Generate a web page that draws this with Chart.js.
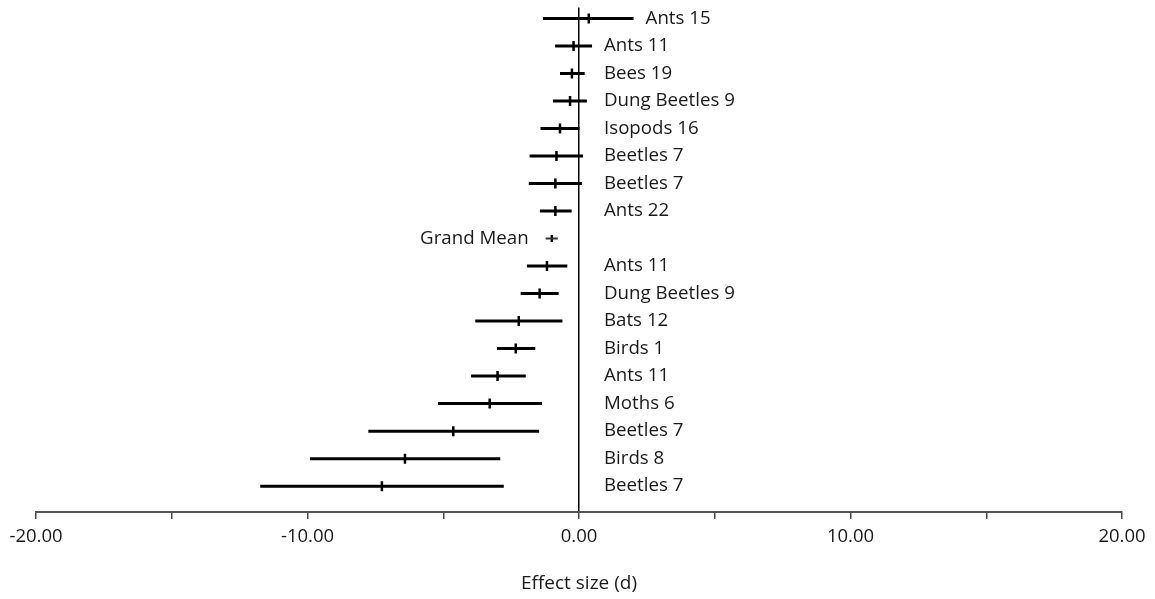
<!DOCTYPE html>
<html>
<head>
<meta charset="utf-8">
<script src="https://cdn.jsdelivr.net/npm/chart.js@4.4.1/dist/chart.umd.min.js"></script>
<style>
  body { margin: 0; background: #fff; }
  #wrap { width: 1155px; height: 599px; position: relative; }
</style>
</head>
<body>
<div id="wrap"><canvas id="forest"></canvas></div>
<script>
// rows, top to bottom
var labels = ['Ants 15', 'Ants 11', 'Bees 19', 'Dung Beetles 9', 'Isopods 16', 'Beetles 7', 'Beetles 7', 'Ants 22',
              'Grand Mean', 'Ants 11', 'Dung Beetles 9', 'Bats 12', 'Birds 1', 'Ants 11', 'Moths 6', 'Beetles 7', 'Birds 8', 'Beetles 7'];
var means = [0.36, -0.20, -0.26, -0.33, -0.70, -0.83, -0.87, -0.87, -1.00, -1.18, -1.45, -2.22, -2.33, -3.00, -3.29, -4.63, -6.41, -7.26];
var lower = [-1.33, -0.88, -0.70, -0.96, -1.42, -1.82, -1.85, -1.44, -1.23, -1.92, -2.15, -3.82, -3.02, -3.98, -5.19, -7.76, -9.91, -11.74];
var upper = [2.01, 0.48, 0.21, 0.29, 0.02, 0.15, 0.11, -0.27, -0.78, -0.43, -0.75, -0.61, -1.61, -1.96, -1.36, -1.47, -2.90, -2.77];
var grandRow = 8;

Chart.defaults.font.family = "'Open Sans', sans-serif";
Chart.defaults.font.size = 18;
Chart.defaults.color = '#1a1a1a';

var datasets = [];
labels.forEach(function(l, i) {
    datasets.push({
        type: 'line',
        data: [{x: lower[i], y: i + 1}, {x: upper[i], y: i + 1}],
        borderColor: i === grandRow ? '#333' : '#000',
        borderWidth: i === grandRow ? 2 : 3,
        pointRadius: 0,
        showLine: true
    });
});
datasets.push({
    type: 'scatter',
    data: means.map(function(m, i) { return {x: m, y: i + 1}; }),
    pointStyle: 'line',
    rotation: 90,
    pointRadius: means.map(function(m, i) { return i === grandRow ? 3.5 : 5; }),
    borderWidth: 2.5,
    borderColor: '#000'
});

// row names to the right of the bars, grand mean to the left
var rowLabels = {
    id: 'rowLabels',
    afterDatasetsDraw: function(chart) {
        var ctx = chart.ctx, xs = chart.scales.x, ys = chart.scales.y;
        ctx.save();
        ctx.font = "18.7px 'Open Sans', sans-serif";
        ctx.fillStyle = '#1a1a1a';
        ctx.textBaseline = 'middle';
        labels.forEach(function(l, i) {
            var y = ys.getPixelForValue(i + 1);
            if (i === grandRow) {
                ctx.textAlign = 'right';
                ctx.fillText(l, xs.getPixelForValue(lower[i]) - 17, y);
            } else {
                ctx.textAlign = 'left';
                var x = Math.max(xs.getPixelForValue(0) + 25, xs.getPixelForValue(upper[i]) + 12);
                ctx.fillText(l, x, y);
            }
        });
        ctx.restore();
    }
};

new Chart('forest', {
    type: 'scatter',
    data: { datasets: datasets },
    options: {
        responsive: true,
        maintainAspectRatio: false,
        animation: false,
        layout: { padding: { left: 36, right: 33, top: 6, bottom: 0 } },
        plugins: { legend: { display: false }, tooltip: { enabled: false } },
        scales: {
            x: {
                type: 'linear',
                min: -20,
                max: 20,
                afterFit: function(scale) { scale.height = 87; },
                ticks: {
                    stepSize: 5,
                    autoSkip: false,
                    maxRotation: 0,
                    padding: 7,
                    color: '#1a1a1a',
                    font: { size: 18.5 },
                    callback: function(v) { return v % 10 === 0 ? v.toFixed(2) : ''; }
                },
                grid: {
                    drawOnChartArea: true,
                    color: function(c) { return c.tick && c.tick.value === 0 ? '#000' : 'rgba(0,0,0,0)'; },
                    lineWidth: 1.5,
                    tickColor: '#444',
                    tickLength: 7
                },
                border: { color: '#555', width: 2 },
                title: {
                    display: true,
                    text: 'Effect size (d)',
                    color: '#1a1a1a',
                    font: { size: 19 },
                    padding: { top: 0, bottom: 4 }
                }
            },
            y: {
                type: 'linear',
                display: false,
                reverse: true,
                min: 0.6,
                max: 18.94
            }
        }
    },
    plugins: [rowLabels]
});
</script>
</body>
</html>
